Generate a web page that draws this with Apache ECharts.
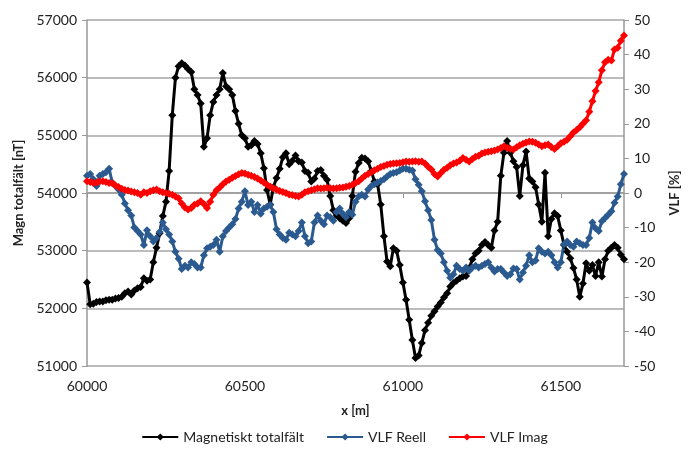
<!DOCTYPE html>
<html><head><meta charset="utf-8">
<script src="https://cdn.jsdelivr.net/npm/echarts@6/dist/echarts.min.js"></script>
<style>html,body{margin:0;padding:0;background:#fff}#c{width:689px;height:455px}</style>
</head><body><div id="c"></div>
<script>
// x positions [m]
const xStart = 60000, xStep = 10;
// Magnetiskt totalfält [nT], one value per 10 m from 60000 to 61700
const magn = [
52450,52070,52080,52110,52120,52120,52140,52150,52150,52170,
52180,52200,52260,52290,52240,52310,52350,52370,52520,52480,
52500,52800,53050,53300,53600,53850,54380,55350,56000,56200,
56250,56210,56150,56100,55800,55700,55550,54800,54950,55350,
55580,55700,55800,56080,55850,55800,55700,55420,55200,55000,
54950,54800,54830,54900,54850,54690,54430,54050,53800,54100,
54260,54420,54620,54690,54500,54560,54650,54550,54530,54380,
54350,54200,54250,54380,54400,54300,54230,53950,53700,53620,
53560,53520,53480,53560,53950,54370,54520,54610,54600,54550,
54380,54200,54150,53800,53250,52810,52730,53040,53000,52750,
52450,52150,51800,51450,51140,51180,51400,51620,51750,51870,
51950,52030,52100,52190,52260,52380,52440,52480,52520,52550,
52560,52700,52850,52950,53000,53100,53150,53100,53050,53350,
53500,54300,54700,54900,54700,54550,54450,53950,54480,54720,
54250,54200,54100,53800,53500,54350,53250,53550,53650,53600,
53350,53100,52980,52870,52700,52500,52200,52430,52780,52650,
52750,52560,52800,52550,52850,53000,53050,53100,53050,52930,
52850];
// VLF Reell [%]
const vlfReell = [
5,5.5,4,2,5,5.5,6,7,3,2,
1,-0.5,-3,-5,-6.5,-10,-11,-12,-15,-10.8,
-12.5,-14,-13,-11.3,-8.5,-10.5,-12,-14,-17,-19,
-22,-21,-21.5,-20,-20.5,-21.5,-21.5,-18,-16,-15.5,
-15,-13.5,-17,-12.5,-11,-10,-9,-7.5,-4.5,-2.5,
0.5,-3.5,-2.5,-5.5,-3.5,-6,-4.5,-4,-3.5,-5.5,
-10.5,-12,-13,-13.5,-11.5,-12,-12.5,-11,-8.5,-12.5,
-14.5,-14,-8.5,-6.5,-8,-9,-6.5,-7,-8,-5.5,
-4.5,-6,-7,-5.5,-6.3,-2.5,-1,-0.5,-1,1,
2,2.5,3,3.5,4,4.8,5.5,5.8,6,6.5,
7,7,6.7,6.5,4,2.4,0.5,-2.4,-5,-7.8,
-13.5,-16.5,-17.5,-20,-22.5,-24.5,-23.5,-21,-22,-22.5,
-21.5,-22.5,-21.5,-21,-21.5,-21,-20.5,-20,-21.5,-22.7,
-22,-22,-23,-24,-23.5,-21.8,-22,-25,-23,-21,
-18,-20,-19.5,-16,-17,-17.5,-17,-18,-20,-21.5,
-20,-14.8,-14,-15,-15.5,-14,-14.5,-15,-15,-13,
-8.5,-10.2,-11,-8.2,-7.2,-6.3,-5.3,-2.8,-1,2.5,
5.5];
// VLF Imag [%]
const vlfImag = [
3.4,3.2,2.9,3.0,3.3,3.4,3.2,2.9,2.8,2.2,
1.7,1.2,0.9,0.7,0.4,0.2,0,-0.5,0.2,0,
0.5,0.8,1.0,0.5,0.2,0,-0.2,-0.5,-1.0,-1.5,
-3.0,-4.2,-4.8,-4.3,-3.4,-3.0,-2.4,-3.2,-4.3,-2.5,
-0.5,0.8,1.6,2.5,3.3,3.8,4.4,4.9,5.4,5.8,
5.6,5.3,5.0,4.6,4.2,3.6,3.0,2.4,1.9,1.4,
1.0,0.6,0.3,0,-0.4,-0.6,-0.9,-1.0,-0.5,0.2,
0.5,0.8,1.1,1.4,1.3,1.4,1.5,1.4,1.3,1.4,
1.5,1.6,1.8,2.0,2.4,2.9,3.4,4.2,5.0,5.5,
6.0,6.6,7.0,7.5,7.8,8.2,8.4,8.5,8.6,8.7,
8.9,9.1,9.0,9.1,9.2,9.0,9.1,8.5,7.6,6.8,
5.5,4.8,5.8,6.7,7.3,8.0,8.5,8.8,9.3,10.1,
9.6,9.1,9.8,10.5,10.8,11.4,11.7,11.9,12.1,12.3,
12.6,13.0,13.5,13.1,12.8,12.6,13.2,13.8,14.2,14.6,
14.9,14.8,14.5,14.0,13.5,13.8,14.0,13.3,12.7,13.5,
14.4,14.8,15.4,16.4,17.5,18.2,19.0,20.0,21.0,23.5,
26.5,29.5,32.0,35.5,37.8,38.5,38.3,41.5,42.0,44.0,
45.5];
const seriesNames = ['Magnetiskt totalfält', 'VLF Reell', 'VLF Imag'];
const xTicks = [60000, 60500, 61000, 61500];

const pair = arr => arr.map((v, i) => [xStart + i * xStep, v]);
const FONT = 'Lato';
const chart = echarts.init(document.getElementById('c'), null, {renderer: 'canvas'});
const lineSeries = (name, data, color, yIdx) => ({
  name, type: 'line', yAxisIndex: yIdx, data: pair(data),
  symbol: 'diamond', symbolSize: 8, showSymbol: true,
  lineStyle: {color, width: 3}, itemStyle: {color},
  animation: false
});
chart.setOption({
  animation: false,
  textStyle: {fontFamily: FONT},
  grid: {left: 87, right: 59, top: 20, bottom: 89, containLabel: false},
  legend: {
    bottom: 6, left: 'center', itemWidth: 36, itemHeight: 9, itemGap: 22,
    textStyle: {fontFamily: FONT, fontSize: 14, color: '#222'},
    data: seriesNames
  },
  xAxis: {
    type: 'value', min: 60000, max: 61700, interval: 500,
    name: 'x [m]', nameLocation: 'middle', nameGap: 38,
    nameTextStyle: {fontFamily: FONT, fontWeight: 'bold', fontSize: 13, color: '#222'},
    axisLine: {lineStyle: {color: '#999', width: 1.5}},
    axisTick: {show: true, length: 5, lineStyle: {color: '#999'}},
    axisLabel: {fontSize: 14, color: '#222', margin: 13, showMaxLabel: false,
      formatter: v => xTicks.includes(v) ? String(v) : ''},
    splitLine: {show: false}
  },
  yAxis: [{
    type: 'value', min: 51000, max: 57000, interval: 1000, position: 'left',
    name: 'Magn totalfält [nT]', nameLocation: 'middle', nameGap: 62, nameRotate: 90,
    nameTextStyle: {fontFamily: FONT, fontWeight: 'bold', fontSize: 13, color: '#222'},
    axisLine: {show: true, lineStyle: {color: '#999', width: 1.5}},
    axisTick: {show: true, length: 5, lineStyle: {color: '#999'}},
    axisLabel: {fontSize: 14, color: '#222', margin: 10, formatter: v => String(v)},
    splitLine: {show: true, lineStyle: {color: '#a6a6a6', width: 1.5}}
  }, {
    type: 'value', min: -50, max: 50, interval: 10, position: 'right',
    name: 'VLF [%]', nameLocation: 'middle', nameGap: 44, nameRotate: 90,
    nameTextStyle: {fontFamily: FONT, fontWeight: 'bold', fontSize: 13, color: '#222'},
    axisLine: {show: true, lineStyle: {color: '#999', width: 1.5}},
    axisTick: {show: true, length: 5, lineStyle: {color: '#999'}},
    axisLabel: {fontSize: 14, color: '#222', margin: 10, formatter: v => String(v)},
    splitLine: {show: false}
  }],
  series: [
    lineSeries(seriesNames[0], magn, '#000000', 0),
    lineSeries(seriesNames[1], vlfReell, '#2a5a8f', 1),
    lineSeries(seriesNames[2], vlfImag, '#ff0000', 1)
  ]
});
</script>
</body></html>
